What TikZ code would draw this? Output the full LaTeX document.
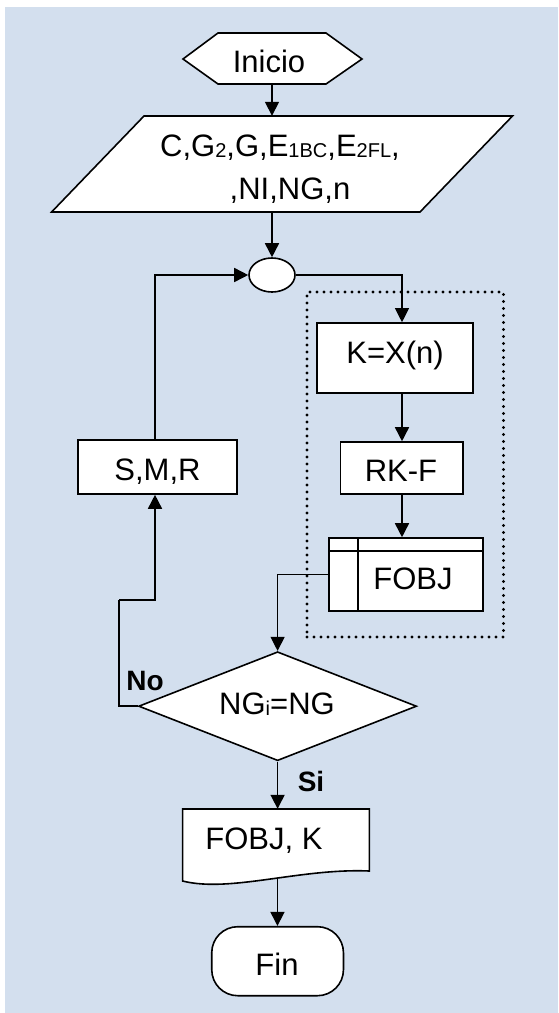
\documentclass[tikz,border=0pt]{standalone}
\usepackage{fontspec}
\setmainfont{Liberation Sans}
\usetikzlibrary{arrows.meta,shapes.geometric,calc}
\definecolor{bgblue}{RGB}{211,223,238}
\newcommand\sbs[1]{{\fontsize{20}{20}\selectfont\raisebox{-1pt}{#1}}}
\begin{document}
\begin{tikzpicture}[x=1pt,y=-1pt,
  ln/.style={line width=1.5pt},
  arr/.style={line width=1.6pt,-{Triangle[length=14pt,width=14pt]}},
  thinarr/.style={line width=1.1pt,-{Triangle[length=14pt,width=14pt]}},
  shp/.style={draw,fill=white,line width=1.6pt},
  box/.style={shp,rectangle,inner sep=0pt},
  ghost/.style={rectangle,inner sep=0pt,draw=none},
  lbl/.style={anchor=base,inner sep=0pt,font=\fontsize{31}{37}\selectfont},
  blbl/.style={anchor=base,inner sep=0pt,font=\fontsize{28}{34}\selectfont\bfseries},
  grp/.style={rectangle,draw,line width=3.1pt,line cap=round,dash pattern=on 0pt off 7pt,inner sep=0pt},
]
\useasboundingbox (0,0) rectangle (558,1013);
\fill[bgblue] (5,7) rectangle (558,1013);

% group frame
\node[grp,minimum width=196.5pt,minimum height=345pt] (grupo) at (405.25,464.5) {};

% Inicio (hexagon)
\draw[shp] (183,59) -- (218,33) -- (326,33) -- (362,59) -- (326,84) -- (218,84) -- cycle;
\node[ghost,minimum width=179pt,minimum height=51pt] (inicio) at (272,58.5) {};
\node[lbl] (tinicio) at (269,72.7) {Inicio};

% data (parallelogram)
\draw[shp] (144,116) -- (512.5,116) -- (420,212) -- (51.6,212) -- cycle;
\node[ghost,minimum width=461pt,minimum height=96pt] (datos) at (282,164) {};
\node[lbl] (tdatos1) at (280,156) {C,G\sbs{2},G,E\sbs{1BC},E\sbs{2FL},};
\node[lbl] (tdatos2) at (290,199) {,NI,NG,n};

% connector oval
\node[shp,ellipse,minimum width=46pt,minimum height=34pt,inner sep=0pt] (oval) at (272,275) {};

% process boxes
\coordinate (col) at (402,0);
\node[box,minimum width=156pt,minimum height=70pt] (kbox) at (395,358) {};
\node[lbl] (tk) at (395,363.5) {K=X(n)};
\node[box,minimum width=122.4pt,minimum height=52pt] (rkf) at (401.8,468) {};
\node[lbl] (trkf) at (401,481.7) {RK-F};
\node[box,minimum width=154pt,minimum height=73pt] (fobj) at (406,574.5) {};
\draw[ln] ($(fobj.north west)+(30,0)$) -- ($(fobj.south west)+(30,0)$);
\draw[ln] ($(fobj.north west)+(0,14)$) -- ($(fobj.north east)+(0,14)$);
\node[lbl] (tfobj) at (413,589) {FOBJ};

\coordinate (loopx) at (155,0);
\node[box,minimum width=159pt,minimum height=54pt] (smr) at (157.5,467) {};
\node[lbl] (tsmr) at (157.5,480) {S,M,R};

% decision
\node[shp,diamond,minimum width=278pt,minimum height=109pt,inner sep=0pt] (dec) at (277.6,706.2) {};
\node[lbl] (tdec) at (277,714.3) {NG\sbs{i}=NG};
\node[blbl] (tno) at (145,690) {No};
\node[blbl] (tsi) at (311,791.7) {Si};
\coordinate (nob) at (119,600);

% document
\draw[shp] (182.6,809) -- (369.4,809) -- (369.4,871) .. controls (300,868) and (230,893) .. coordinate[pos=0.45] (docb) (182.6,881) -- cycle;
\node[ghost,minimum width=186.8pt,minimum height=72pt] (doc) at (276,845) {};
\node[lbl] (tdoc) at (264,849.3) {FOBJ, K};

% terminal
\node[box,rounded corners=26pt,minimum width=131.7pt,minimum height=69pt] (fin) at (277.6,961.2) {};
\node[lbl] (tfin) at (277,975) {Fin};

% connectors
\draw[arr] (inicio.south) -- (inicio.south |- datos.north);
\draw[arr] (datos.south -| oval.north) -- (oval.north);
\draw[thinarr] (oval.east) -| (col |- kbox.north);
\draw[arr] (col |- kbox.south) -- (col |- rkf.north);
\draw[arr] (col |- rkf.south) -- (col |- fobj.north);
\draw[thinarr] (fobj.west) -| (dec.north);
\draw[line width=1.6pt] (dec.west) -| (nob);
\draw[arr] (nob) -| (loopx |- smr.south);
\draw[arr] (loopx |- smr.north) |- (oval.west);
\draw[arr] (dec.south) -- (dec.south |- doc.north);
\draw[arr] (docb) -- (docb |- fin.north);
\end{tikzpicture}
\end{document}
